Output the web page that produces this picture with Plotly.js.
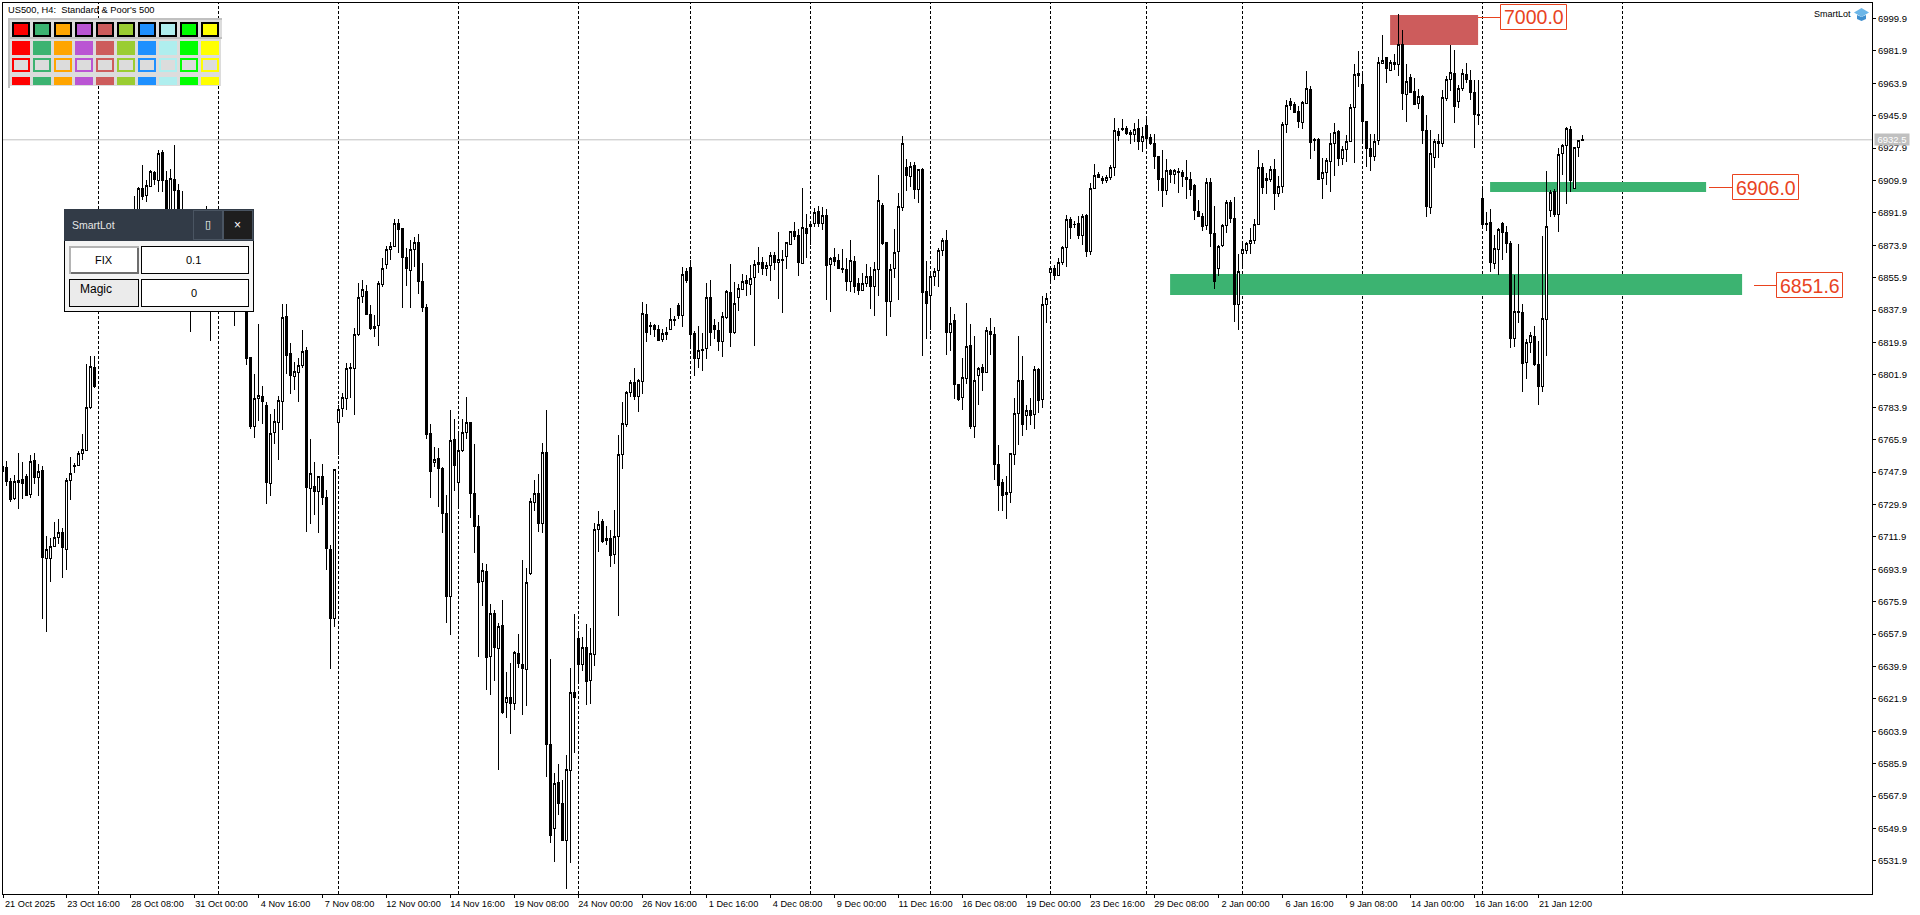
<!DOCTYPE html>
<html><head><meta charset="utf-8"><title>US500 H4</title>
<script src="https://cdn.plot.ly/plotly-3.0.1.min.js"></script>
<style>html,body{margin:0;padding:0;background:#fff;overflow:hidden}#chart{width:1920px;height:915px}.boxes path{shape-rendering:crispEdges}</style>
</head><body><div id="chart"></div>
<script>
const high=[
6751.3,6754.1,6744.5,6746.1,6758.5,6753.5,6746.7,6757.3,6758.5,6752.3,
6751.1,6712.4,6711.1,6720.2,6721.9,6716.7,6744.5,6756.3,6752.8,6759.6,
6769.1,6807.8,6812.4,6812.4,6854.6,6863.0,6868.5,6866.9,6874.1,6879.6,
6878.0,6886.9,6890.2,6901.3,6906.5,6918.5,6910.2,6915.8,6915.0,6926.7,
6926.7,6915.2,6916.3,6929.6,6907.8,6903.9,6888.0,6879.6,6879.6,6879.1,
6876.9,6895.8,6881.3,6876.9,6876.9,6871.3,6871.3,6866.9,6868.5,6863.0,
6863.0,6851.9,6811.9,6802.4,6830.2,6795.8,6786.9,6780.2,6783.0,6790.2,
6841.1,6841.1,6819.6,6809.1,6811.1,6826.9,6817.3,6766.1,6753.5,6745.8,
6752.3,6738.0,6707.4,6749.6,6785.2,6792.0,6808.4,6808.4,6827.8,6852.8,
6854.6,6851.9,6840.8,6835.2,6854.1,6866.7,6873.5,6875.9,6888.4,6888.4,
6883.0,6872.3,6876.9,6878.4,6880.2,6863.9,6841.1,6774.6,6761.9,6761.1,
6750.9,6735.2,6782.4,6777.4,6769.6,6777.3,6789.6,6775.8,6763.5,6724.1,
6697.3,6696.7,6674.6,6671.1,6664.1,6676.9,6636.9,6641.7,6648.4,6658.0,
6698.9,6694.5,6733.5,6743.5,6746.9,6764.1,6782.4,6644.1,6580.6,6585.6,
6576.9,6590.6,6639.1,6669.1,6658.9,6656.1,6663.4,6661.1,6719.5,6726.3,
6721.7,6717.8,6715.6,6726.7,6768.4,6786.7,6792.8,6798.9,6805.6,6799.8,
6842.3,6841.1,6831.1,6830.4,6829.5,6827.3,6828.4,6838.9,6834.5,6841.9,
6861.9,6861.1,6865.6,6826.1,6828.9,6825.0,6852.8,6854.5,6832.8,6831.1,
6836.7,6849.1,6863.4,6853.4,6852.3,6857.8,6857.3,6863.0,6865.6,6873.0,
6867.3,6864.5,6870.2,6870.2,6881.1,6871.3,6875.8,6881.9,6886.7,6882.8,
6905.6,6891.1,6886.7,6894.5,6895.8,6895.0,6893.9,6867.6,6872.4,6868.9,
6871.9,6866.7,6876.7,6868.0,6855.6,6858.4,6863.4,6861.7,6864.5,6912.8,
6897.3,6875.9,6863.4,6883.0,6902.8,6934.6,6921.7,6920.0,6920.0,6916.3,
6916.7,6865.2,6859.3,6861.1,6872.4,6878.0,6882.3,6839.5,6835.6,6796.9,
6811.3,6841.9,6830.0,6823.4,6806.1,6807.8,6828.4,6833.4,6828.4,6762.8,
6743.9,6745.8,6758.4,6788.9,6823.5,6812.3,6785.2,6788.9,6806.7,6805.6,
6845.8,6847.3,6862.4,6862.8,6866.7,6873.4,6890.6,6889.5,6887.3,6890.0,
6891.1,6891.1,6908.4,6918.9,6914.5,6912.3,6913.0,6918.4,6944.6,6939.1,
6944.1,6940.2,6937.8,6941.7,6944.1,6939.5,6944.6,6935.6,6935.8,6923.5,
6926.9,6921.9,6916.3,6916.3,6916.7,6915.6,6921.1,6914.5,6907.8,6898.9,
6891.7,6911.1,6911.1,6895.6,6873.9,6885.6,6898.9,6898.9,6900.8,6868.9,
6875.6,6875.9,6883.4,6888.5,6926.9,6919.5,6913.9,6918.0,6921.9,6912.3,
6942.4,6954.5,6955.6,6953.4,6951.1,6953.9,6970.8,6962.3,6933.4,6933.4,
6922.3,6922.3,6936.1,6941.7,6937.8,6928.9,6935.0,6952.3,6974.5,6981.9,
6969.1,6943.0,6935.6,6935.6,6978.4,6990.8,6978.4,6976.7,6980.0,7002.3,
6993.4,6974.5,6968.9,6966.7,6960.6,6957.3,6946.1,6937.8,6932.8,6935.6,
6960.0,6967.8,6985.0,6982.3,6962.8,6971.7,6975.0,6971.1,6965.6,6965.6,
6905.6,6892.3,6893.9,6879.5,6883.4,6887.0,6884.5,6876.1,6857.3,6874.5,
6841.3,6822.0,6825.6,6828.9,6820.8,6878.9,6915.0,6904.5,6905.0,6927.8,
6930.0,6939.5,6940.0,6928.4,6932.4,6935.0];
const low=[
6747.4,6740.2,6731.5,6732.6,6727.6,6733.1,6734.6,6733.7,6741.5,6734.8,
6666.5,6659.3,6687.0,6706.1,6708.1,6689.3,6693.7,6732.6,6747.6,6751.5,
6754.6,6760.0,6783.1,6794.8,6841.3,6849.1,6857.4,6854.6,6854.6,6868.0,
6868.0,6871.3,6879.1,6882.4,6885.2,6899.1,6898.1,6906.3,6907.4,6903.4,
6903.4,6888.0,6889.1,6892.4,6879.6,6876.9,6871.3,6825.8,6860.2,6857.4,
6857.4,6865.8,6820.8,6849.1,6851.9,6849.1,6846.3,6846.3,6829.1,6840.8,
6840.8,6807.4,6771.9,6767.0,6776.5,6774.8,6730.2,6734.6,6763.7,6754.6,
6771.3,6802.4,6791.3,6793.5,6786.9,6805.8,6714.6,6719.1,6724.1,6714.1,
6729.6,6693.5,6638.7,6662.0,6757.4,6778.7,6782.4,6789.1,6779.6,6823.5,
6841.9,6834.9,6826.9,6823.1,6818.1,6850.9,6860.8,6865.8,6873.0,6869.6,
6839.3,6851.3,6839.3,6862.0,6846.9,6837.0,6766.3,6733.4,6750.9,6728.7,
6714.3,6664.3,6657.6,6737.4,6727.8,6759.3,6766.1,6722.4,6703.1,6645.4,
6673.5,6626.9,6624.1,6631.9,6582.4,6613.5,6611.3,6602.4,6615.8,6639.3,
6613.0,6618.0,6690.8,6726.5,6714.8,6714.3,6578.7,6541.7,6531.5,6557.4,
6543.0,6516.5,6530.9,6592.0,6630.9,6637.6,6618.7,6619.3,6640.4,6703.7,
6708.7,6707.6,6695.4,6697.0,6668.1,6749.5,6773.1,6789.8,6788.1,6781.5,
6791.5,6820.4,6823.9,6823.1,6820.8,6820.4,6821.3,6826.9,6829.1,6832.8,
6828.5,6853.0,6816.3,6801.5,6805.6,6804.1,6810.9,6818.1,6822.0,6815.4,
6812.0,6832.8,6817.6,6824.5,6837.6,6849.1,6845.8,6846.3,6818.1,6858.7,
6857.6,6856.7,6854.3,6860.4,6844.1,6836.3,6860.8,6873.9,6876.9,6857.0,
6863.7,6867.0,6874.1,6884.3,6883.9,6882.4,6843.5,6837.0,6862.6,6860.8,
6858.7,6848.5,6848.0,6847.6,6846.3,6848.4,6850.9,6838.5,6834.8,6845.8,
6874.1,6823.7,6834.3,6855.9,6843.5,6893.1,6904.3,6906.5,6899.8,6897.6,
6812.6,6822.0,6827.0,6851.1,6850.9,6868.0,6813.0,6815.2,6788.4,6787.4,
6782.4,6796.7,6771.9,6766.7,6785.2,6793.0,6803.4,6813.0,6743.5,6726.5,
6726.5,6721.7,6730.9,6752.0,6763.0,6768.0,6771.3,6774.1,6771.9,6780.9,
6783.7,6830.8,6853.7,6854.8,6857.0,6862.8,6862.0,6877.6,6883.4,6877.6,
6873.9,6867.6,6868.4,6905.6,6911.1,6907.8,6908.4,6910.0,6912.3,6931.9,
6937.4,6935.4,6930.2,6931.5,6926.9,6925.9,6928.7,6929.6,6916.3,6904.3,
6895.4,6901.9,6908.4,6908.0,6902.8,6906.5,6899.6,6901.3,6888.0,6889.5,
6881.9,6882.6,6873.1,6849.6,6857.0,6873.1,6880.9,6886.5,6831.5,6827.0,
6860.8,6868.9,6868.9,6874.6,6885.2,6902.4,6902.4,6909.3,6893.5,6900.6,
6903.0,6936.3,6949.1,6947.3,6939.1,6938.5,6952.3,6921.9,6926.3,6910.2,
6899.6,6907.3,6903.5,6912.4,6918.0,6918.5,6920.2,6931.1,6919.6,6962.0,
6930.9,6917.6,6915.4,6920.9,6929.8,6974.6,6963.9,6970.6,6971.3,6968.0,
6949.1,6942.6,6958.4,6951.7,6949.8,6930.2,6889.8,6891.3,6916.7,6922.6,
6928.4,6954.3,6959.8,6942.0,6950.4,6959.5,6963.9,6954.8,6928.1,6940.9,
6883.4,6881.9,6859.3,6860.6,6857.3,6865.8,6869.5,6817.0,6817.6,6830.6,
6792.6,6799.8,6813.9,6806.9,6785.4,6792.6,6812.6,6889.8,6889.8,6881.5,
6913.0,6896.9,6903.7,6905.0,6923.1,6932.3];
const bodyHigh=[
6750.8,6750.6,6742.8,6742.8,6743.4,6743.9,6745.6,6753.9,6754.5,6748.4,
6748.9,6705.0,6706.7,6711.7,6714.5,6714.5,6743.4,6747.3,6751.7,6758.4,
6760.6,6783.9,6806.7,6806.1,6851.9,6860.2,6865.8,6864.6,6871.3,6876.9,
6875.8,6883.5,6886.9,6890.8,6905.6,6905.6,6907.3,6915.0,6914.5,6925.0,
6925.6,6910.0,6911.1,6910.6,6904.5,6890.8,6885.2,6876.9,6876.9,6876.9,
6874.1,6890.8,6876.9,6874.1,6874.1,6868.5,6868.5,6864.6,6864.6,6860.2,
6860.2,6846.3,6811.3,6788.9,6790.6,6790.0,6785.0,6769.5,6775.9,6787.8,
6833.9,6834.6,6813.9,6803.9,6807.3,6815.0,6815.6,6747.3,6740.0,6745.6,
6745.6,6733.9,6705.0,6749.5,6782.8,6789.5,6805.6,6806.1,6824.5,6845.0,
6849.1,6848.5,6835.2,6828.9,6852.4,6861.1,6871.3,6873.5,6886.1,6886.1,
6883.0,6867.3,6871.7,6875.6,6875.6,6853.9,6839.5,6769.5,6755.0,6755.6,
6750.0,6725.0,6765.6,6766.1,6760.0,6770.0,6775.6,6775.6,6735.8,6717.8,
6693.4,6692.8,6669.5,6669.5,6662.3,6662.8,6622.8,6622.8,6647.8,6647.3,
6641.1,6686.7,6731.7,6736.1,6736.1,6758.9,6758.9,6596.7,6575.0,6575.6,
6563.9,6582.8,6625.6,6625.6,6655.6,6650.6,6650.6,6647.3,6716.1,6718.9,
6720.6,6711.1,6711.1,6712.2,6757.8,6775.0,6792.3,6797.8,6797.8,6798.9,
6836.1,6835.6,6829.5,6829.5,6827.3,6825.0,6825.6,6832.8,6832.8,6840.6,
6857.8,6859.5,6861.7,6825.0,6815.6,6816.1,6845.0,6845.0,6829.5,6826.7,
6834.5,6848.5,6847.8,6841.7,6850.0,6853.9,6854.6,6855.6,6863.4,6864.5,
6864.5,6862.8,6868.4,6868.4,6866.1,6866.1,6875.6,6881.7,6881.7,6879.5,
6883.9,6883.4,6885.6,6892.3,6892.8,6890.6,6890.6,6866.7,6867.3,6865.6,
6861.1,6860.6,6865.6,6865.0,6852.8,6852.8,6856.7,6856.7,6860.6,6898.9,
6896.1,6875.2,6860.6,6870.0,6895.6,6930.6,6917.3,6917.8,6918.4,6916.1,
6916.1,6848.1,6856.7,6859.5,6871.1,6876.7,6876.7,6830.6,6832.3,6796.7,
6800.6,6817.8,6818.4,6798.9,6805.6,6806.1,6826.7,6826.1,6824.5,6752.0,
6742.3,6736.5,6758.4,6780.6,6798.9,6798.9,6782.3,6782.3,6805.0,6805.0,
6841.1,6844.5,6861.1,6861.1,6864.5,6872.8,6888.4,6888.4,6885.6,6886.1,
6890.0,6890.6,6905.6,6912.8,6913.4,6911.1,6911.7,6917.3,6937.8,6937.2,
6938.9,6938.9,6936.7,6938.4,6938.9,6934.5,6940.6,6933.9,6930.6,6923.4,
6911.1,6915.6,6915.6,6915.6,6915.0,6914.5,6911.7,6910.6,6907.3,6892.8,
6890.0,6908.9,6908.9,6880.6,6873.4,6885.0,6897.8,6897.8,6888.9,6859.5,
6871.5,6875.0,6876.7,6885.6,6917.3,6917.3,6911.1,6916.1,6916.1,6906.7,
6941.1,6951.7,6953.9,6952.3,6948.4,6953.4,6961.1,6960.6,6932.8,6932.8,
6914.5,6921.1,6930.6,6936.7,6937.2,6927.3,6931.7,6950.6,6968.9,6969.1,
6963.4,6942.8,6927.8,6931.7,6975.6,6976.7,6978.0,6975.6,6975.6,6985.6,
6985.2,6965.0,6967.3,6959.5,6956.7,6956.7,6937.8,6925.0,6931.7,6931.7,
6956.1,6966.1,6970.0,6969.5,6961.1,6969.5,6968.9,6965.6,6958.9,6946.7,
6900.0,6886.1,6886.7,6872.3,6882.8,6886.1,6881.1,6875.0,6837.3,6837.3,
6836.7,6820.0,6823.9,6823.4,6807.8,6833.4,6884.5,6903.4,6903.9,6924.5,
6929.5,6938.9,6938.4,6928.4,6932.3,6932.8];
const bodyLow=[
6748.0,6742.6,6732.6,6733.1,6742.3,6741.7,6735.0,6735.4,6744.8,6745.0,
6700.6,6700.0,6700.0,6706.7,6711.7,6706.1,6705.0,6743.4,6751.1,6751.7,
6758.4,6760.0,6783.9,6795.6,6843.5,6851.9,6859.1,6857.4,6857.4,6870.2,
6871.3,6874.1,6881.3,6885.2,6888.0,6900.9,6901.7,6906.7,6910.6,6910.0,
6910.0,6892.4,6892.4,6904.5,6885.2,6882.4,6876.9,6868.5,6868.5,6864.6,
6864.6,6876.9,6863.0,6863.0,6860.2,6860.2,6854.6,6854.6,6849.1,6849.1,
6846.3,6810.8,6773.5,6773.1,6788.7,6787.0,6742.0,6741.7,6769.8,6775.6,
6787.0,6812.6,6801.5,6800.9,6803.1,6806.9,6739.3,6738.9,6737.0,6737.0,
6733.7,6705.4,6666.5,6666.5,6775.4,6783.1,6788.7,6805.4,6805.6,6824.1,
6845.4,6835.2,6827.4,6827.6,6829.3,6851.9,6863.0,6871.3,6873.1,6882.4,
6867.0,6860.9,6859.8,6871.7,6853.7,6839.3,6768.7,6748.1,6753.1,6749.8,
6725.0,6678.7,6678.7,6751.5,6742.0,6759.8,6770.0,6735.8,6717.6,6686.5,
6687.0,6644.8,6645.4,6650.4,6649.8,6614.6,6619.8,6619.3,6619.3,6641.7,
6638.7,6638.1,6691.3,6731.1,6719.5,6719.5,6596.7,6546.1,6550.0,6563.9,
6543.5,6543.5,6582.2,6622.8,6640.9,6640.9,6631.5,6632.0,6646.5,6716.1,
6709.1,6710.0,6701.5,6702.0,6712.2,6757.6,6774.3,6792.3,6789.8,6789.8,
6798.4,6825.4,6828.7,6827.0,6821.1,6821.3,6824.5,6827.3,6832.0,6834.8,
6834.8,6854.6,6824.3,6811.1,6811.1,6815.6,6816.7,6825.4,6827.0,6820.4,
6820.4,6833.9,6825.4,6825.4,6845.0,6849.6,6852.4,6852.3,6856.1,6863.1,
6860.9,6860.9,6862.8,6864.3,6864.3,6865.6,6867.6,6874.5,6878.7,6864.3,
6863.7,6880.4,6884.5,6886.1,6886.1,6886.1,6862.6,6863.4,6864.8,6860.9,
6860.2,6853.7,6853.7,6850.9,6848.7,6848.7,6852.6,6850.9,6850.9,6860.6,
6874.8,6842.6,6842.6,6861.1,6870.6,6895.0,6912.4,6912.3,6904.8,6904.8,
6847.6,6841.5,6845.9,6856.5,6859.8,6871.1,6825.4,6825.4,6796.3,6788.4,
6789.1,6800.0,6773.0,6773.0,6801.7,6803.4,6803.4,6824.5,6752.0,6740.6,
6734.8,6735.4,6736.5,6757.8,6780.6,6774.3,6779.3,6779.3,6779.8,6787.6,
6788.4,6841.1,6858.7,6857.0,6857.0,6864.5,6872.8,6883.9,6885.4,6879.3,
6879.3,6870.6,6870.6,6905.6,6911.7,6910.0,6910.0,6911.7,6917.3,6934.8,
6938.5,6936.1,6935.4,6935.4,6931.5,6931.5,6933.1,6930.4,6923.0,6910.4,
6904.3,6904.5,6913.1,6913.1,6914.3,6912.0,6910.4,6904.8,6893.1,6889.8,
6884.3,6884.8,6880.4,6853.7,6860.9,6873.7,6884.8,6888.9,6840.9,6840.9,
6869.5,6871.1,6875.0,6876.7,6885.6,6905.9,6910.0,6910.6,6902.6,6902.6,
6906.5,6941.1,6951.7,6947.8,6942.8,6942.3,6952.8,6931.1,6932.3,6910.4,
6910.8,6914.5,6920.6,6930.6,6922.0,6922.0,6927.3,6931.7,6950.6,6968.0,
6942.6,6927.6,6923.1,6923.1,6932.3,6975.0,6972.0,6971.1,6974.3,6974.5,
6958.1,6957.8,6958.7,6952.3,6952.6,6937.8,6895.4,6895.0,6922.8,6930.4,
6930.6,6955.6,6965.8,6950.9,6953.9,6961.1,6965.8,6958.7,6946.5,6945.9,
6885.2,6885.4,6864.5,6863.9,6871.7,6881.1,6875.0,6822.3,6822.3,6836.5,
6808.4,6808.7,6819.8,6807.4,6795.4,6795.4,6832.8,6893.4,6890.9,6890.9,
6925.0,6929.5,6909.8,6905.6,6928.4,6932.3];
const direction=("ddduuddudu"+"duuuuduuuu"+"uuuduuuduu"+"duuuuduudu"+"ddudddddud"+"uddudududu"+"ddduudduuu"+"udduuududu"+
"ddduuuuduu"+"udduuuuuud"+"dduuddddud"+"dduduuuddd"+"ududududud"+"duuududdud"+"duudduduuu"+"duduuuuudu"+
"udddduuudd"+"udddududdd"+"uuduuuduuu"+"duuduuuudd"+"uduudududd"+"ddudduuduu"+"dduuuududu"+"dduuuududd"+
"uuduududdd"+"duuuududud"+"uuuduuuddd"+"uduudduuud"+"dddududddd"+"dududddddd"+"dudduuuddu"+"uuuuuduudu"+
"uuddduuddd"+"uuuuduuuud"+"ddduuududu"+"duddudduud"+"uuuduudddd"+"ddduudddud"+"duudduuudu"+"uuduud").split("");

const barIndex=high.map((_,i)=>i);
const open=barIndex.map(i=>direction[i]==="u"?bodyLow[i]:bodyHigh[i]);
const close=barIndex.map(i=>direction[i]==="u"?bodyHigh[i]:bodyLow[i]);

const timeTickBars=[0.13,16,32,48,64,80,96,112,128,144,160,176,192,208,224,240,256,272,288,304,320,336,352,368,384];
const timeTickLabels=["21 Oct 2025","23 Oct 16:00","28 Oct 08:00","31 Oct 00:00","4 Nov 16:00","7 Nov 08:00","12 Nov 00:00","14 Nov 16:00","19 Nov 08:00","24 Nov 00:00","26 Nov 16:00","1 Dec 16:00","4 Dec 08:00","9 Dec 00:00","11 Dec 16:00","16 Dec 08:00","19 Dec 00:00","23 Dec 16:00","29 Dec 08:00","2 Jan 00:00","6 Jan 16:00","9 Jan 08:00","14 Jan 00:00","16 Jan 16:00","21 Jan 12:00"];
const priceTicks=[6531.9,6549.9,6567.9,6585.9,6603.9,6621.9,6639.9,6657.9,6675.9,6693.9,6711.9,6729.9,6747.9,6765.9,6783.9,6801.9,6819.9,6837.9,6855.9,6873.9,6891.9,6909.9,6927.9,6945.9,6963.9,6981.9,6999.9];
const periodSeparators=[24,54,84,114,144,172,202,232,262,286,310,340,370,405];
const lastPrice=6932.5;
const zoneColors=["#3CB371","#3CB371","#CD5C5C"];
const zones=[[291.9,434.9,6846.3,6857.9],[371.9,425.9,6903.5,6909.1],[346.9,368.9,6985.2,7001.8]];
const paletteColors=["#FF0000","#3CB371","#FFA500","#BA55D3","#CD5C5C","#9ACD32","#1E90FF","#AFEEEE","#00FF00","#FFFF00"];
const levelLabels=["7000.0","6906.0","6851.6"];

// pixel helpers for the decorative overlay panels
const L=3,T=3,W=1869,H=891;
const px=x=>(x-L)/W, py=y=>1-(y-T)/H;
const rect=(x0,y0,x1,y1,fill,line,lw)=>({type:"rect",xref:"paper",yref:"paper",x0:px(x0),x1:px(x1),y0:py(y0),y1:py(y1),fillcolor:fill,line:{color:line||fill,width:lw||0},layer:"above"});
const seg=(x0,y0,x1,y1,c,w)=>({type:"line",xref:"paper",yref:"paper",x0:px(x0),x1:px(x1),y0:py(y0),y1:py(y1),line:{color:c,width:w||1},layer:"above"});
const label=(text,x,y,size,color,anchor,family,extra)=>Object.assign({xref:"paper",yref:"paper",x:px(x),y:py(y),text,showarrow:false,xanchor:anchor||"left",yanchor:"middle",align:anchor||"left",borderpad:0,font:{size,color,family:family||"Liberation Sans, sans-serif"}},extra||{});
const poly=(pts,fill)=>({type:"path",xref:"paper",yref:"paper",path:"M"+pts.map(p=>px(p[0])+","+py(p[1])).join("L")+"Z",fillcolor:fill,line:{width:0},layer:"above"});

const shapes=[];
zones.forEach((z,i)=>shapes.push({type:"rect",xref:"x",yref:"y",x0:z[0],x1:z[1],y0:z[2],y1:z[3],fillcolor:zoneColors[i],line:{width:0},layer:"below"}));
periodSeparators.forEach(k=>shapes.push({type:"line",xref:"x",yref:"paper",x0:k,x1:k,y0:0,y1:1,line:{color:"#000",width:1,dash:"3px,2px"},layer:"below"}));
shapes.push({type:"line",xref:"paper",yref:"y",x0:0,x1:1,y0:lastPrice,y1:lastPrice,line:{color:"#C0C0C0",width:1},layer:"below"});

// connector lines and boxes of the level labels
const ORG="#E9431E";
[[1478,1500,17.5,1500.5,1566.5,4.5,29.5],[1709,1732,187.5,1732.5,1798.5,174.5,199.5],[1754,1776,285.5,1776.5,1842.5,272.5,297.5]].forEach(a=>{
  shapes.push(seg(a[0],a[2],a[1],a[2],ORG,1));
  shapes.push(rect(a[3],a[5],a[4],a[6],"#FFFFFF",ORG,1));
});

// colour palette widget
shapes.push(rect(8,18,222,20,"#C0C0C0"));
shapes.push(rect(8,18,10,88,"#C0C0C0"));
shapes.push(rect(10,20,222,37,"#DCDCDC"));
shapes.push(rect(10,37,222,39,"#C0C0C0"));
shapes.push(rect(10,39,221,86,"#DCDCDC"));
paletteColors.forEach((c,i)=>{
  const x=12+21*i;
  shapes.push(rect(x,22,x+18,37,"#000000"));
  shapes.push(rect(x+2,24,x+16,35,c));
  shapes.push(rect(x,41,x+18,55,c));
  shapes.push(rect(x,58,x+18,72,c));
  shapes.push(rect(x+2,60,x+16,70,"#DCDCDC"));
  shapes.push(rect(x,77,x+18,85,c));
});

// SmartLot panel
shapes.push(rect(64,209,254,312,"#000000"));
shapes.push(rect(65,241,253,311,"#F4F4F4"));
shapes.push(rect(64,209,254,241,"#323B47"));
shapes.push(rect(193,210,223,240,"#4A5562"));
shapes.push(rect(194,211,222,239,"#323B47"));
shapes.push(rect(223,210,253,240,"#4A5562"));
shapes.push(rect(224,211,252,239,"#1E1E1E"));
shapes.push(rect(69,246,139,274,"#B4B4B4"));
shapes.push(rect(71,272,139,274,"#6E6E6E"));
shapes.push(rect(137,248,139,274,"#6E6E6E"));
shapes.push(rect(71,248,137,272,"#FFFFFF"));
shapes.push(rect(141,246,249,274,"#000000"));
shapes.push(rect(142,247,248,273,"#FFFFFF"));
shapes.push(rect(69,279,139,307,"#000000"));
shapes.push(rect(70,280,138,306,"#EBEBEB"));
shapes.push(rect(141,279,249,307,"#000000"));
shapes.push(rect(142,280,248,306,"#FFFFFF"));
// graduation cap
shapes.push(poly([[1857,15],[1861.5,17],[1866,15],[1866,19],[1861.5,21],[1857,19]],"#3F8FCF"));
shapes.push(poly([[1854,12.5],[1861.5,8],[1869,12.5],[1861.5,17]],"#6CB6E8"));

const annotations=[
 label("US500, H4:\u00A0\u00A0Standard & Poor's 500",7,10,9.3,"#000"),
 label("SmartLot",1813,13.5,9,"#000"),
 label(levelLabels[0],1533.5,17.5,19.5,ORG,"center"),
 label(levelLabels[1],1765.5,187.5,19.5,ORG,"center"),
 label(levelLabels[2],1809.5,285.5,19.5,ORG,"center"),
 label("SmartLot",71,225,10.5,"#E6E6E6"),
 label("\u25AF",208,225,11,"#FFFFFF","center","DejaVu Sans"),
 label("\u00D7",238,225,12,"#FFFFFF","center"),
 label("FIX",103.5,260,11,"#000","center"),
 label("0.1",193,260,11,"#000","center"),
 label("Magic",96,289,12,"#000","center"),
 label("0",194,293,11,"#000","center"),
 label(lastPrice.toFixed(1),1892,139.5,9.5,"#FFFFFF","center","Liberation Sans, sans-serif",{bgcolor:"#C0C0C0",width:34,height:11})
];

const trace={type:"candlestick",x:barIndex,open,high,low,close,
  increasing:{line:{color:"#000",width:1},fillcolor:"#FFFFFF"},
  decreasing:{line:{color:"#000",width:1},fillcolor:"#000000"},
  whiskerwidth:0,hoverinfo:"skip",showlegend:false};

const layout={width:1920,height:915,margin:{l:L,r:48,t:T,b:21,pad:0},paper_bgcolor:"#fff",plot_bgcolor:"#fff",
  showlegend:false,boxgap:0.5,boxgroupgap:0,hovermode:false,dragmode:false,
  font:{family:"Liberation Sans, sans-serif",size:10,color:"#000"},
  xaxis:{type:"linear",range:[0.125,467.375],rangeslider:{visible:false},tickmode:"array",tickvals:timeTickBars,ticktext:timeTickLabels,
    ticks:"outside",ticklen:3,tickwidth:1,tickcolor:"#000",showgrid:false,zeroline:false,showline:true,mirror:true,linecolor:"#000",linewidth:1,
    ticklabelshift:27,ticklabelstandoff:-2,tickangle:0,tickfont:{size:9.2,color:"#000"}},
  yaxis:{side:"right",range:[6513.5,7008.5],tickmode:"array",tickvals:priceTicks,ticktext:priceTicks.map(v=>v.toFixed(1)),ticks:"outside",ticklen:3,tickwidth:1,tickcolor:"#000",
    showgrid:false,zeroline:false,showline:true,mirror:true,linecolor:"#000",linewidth:1,tickfont:{size:9.5,color:"#000"}},
  shapes,annotations};
Plotly.newPlot("chart",[trace],layout,{displayModeBar:false,staticPlot:true});
</script></body></html>
